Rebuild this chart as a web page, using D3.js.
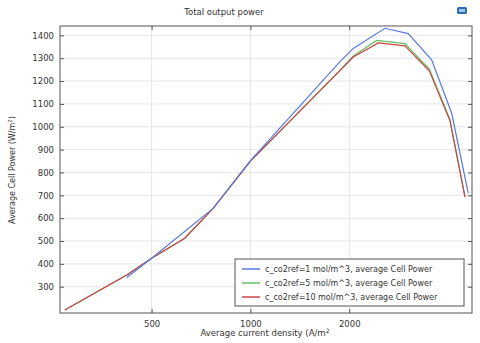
<!DOCTYPE html>
<html>
<head>
<meta charset="utf-8">
<script src="https://cdn.jsdelivr.net/npm/d3@7"></script>
<style>
  body { margin: 0; background: #fff; }
  text { font-family: "DejaVu Sans", Verdana, sans-serif; fill: #333; }
</style>
</head>
<body>
<div id="chart"></div>
<script>
// data
var seriesNames = [
  "c_co2ref=1 mol/m^3, average Cell Power",
  "c_co2ref=5 mol/m^3, average Cell Power",
  "c_co2ref=10 mol/m^3, average Cell Power"
];
var seriesColors = ["#5a78e6", "#62c062", "#cc4444"];

var xBlue = [420, 500, 770, 1000, 1874, 2057, 2569, 3025, 3565, 4102, 4608];
var yBlue = [340, 425, 643, 852, 1285, 1343, 1431, 1408, 1293, 1059, 709];

var xGreen = [272, 420, 500, 631, 770, 1000, 1874, 2057, 2423, 2956, 3506, 4053, 4503];
var yGreen = [198, 351, 425, 512, 643, 850, 1248, 1310, 1378, 1364, 1252, 1032, 694];

var xRed = [272, 420, 500, 631, 770, 1000, 1874, 2057, 2452, 2956, 3506, 4053, 4503];
var yRed = [198, 351, 425, 512, 643, 850, 1246, 1305, 1367, 1354, 1245, 1026, 692];

var xTicks = [500, 1000, 2000];
var yTicks = [300, 400, 500, 600, 700, 800, 900, 1000, 1100, 1200, 1300, 1400];

var width = 480, height = 343;
var margin = {top: 26, right: 8, bottom: 30, left: 60};
var plotW = width - margin.left - margin.right,
    plotH = height - margin.top - margin.bottom;

var svg = d3.select("#chart")
  .append("svg")
    .attr("width", width)
    .attr("height", height);

var g = svg.append("g")
  .attr("transform", "translate(" + margin.left + "," + margin.top + ")");

var x = d3.scaleLog().domain([263, 4730]).range([0, plotW]);
var y = d3.scaleLinear().domain([185, 1441]).range([plotH, 0]);

// grid
g.selectAll(".hgrid").data(yTicks).enter()
  .append("line")
    .attr("x1", 0).attr("x2", plotW)
    .attr("y1", function(d){ return y(d); })
    .attr("y2", function(d){ return y(d); })
    .attr("stroke", "#e6e6e6");
g.selectAll(".vgrid").data(xTicks).enter()
  .append("line")
    .attr("x1", function(d){ return x(d); })
    .attr("x2", function(d){ return x(d); })
    .attr("y1", 0).attr("y2", plotH)
    .attr("stroke", "#e6e6e6");

// axes, ticks pointing inward
function styleAxis(sel) {
  sel.select(".domain").remove();
  sel.selectAll(".tick line").attr("stroke", "#555");
  sel.selectAll(".tick text")
    .style("font-size", "8.5px")
    .attr("fill", "#333");
}
g.append("g")
  .attr("transform", "translate(0," + plotH + ")")
  .call(d3.axisBottom(x).tickValues(xTicks).tickFormat(d3.format("d")).tickSizeInner(-4).tickPadding(8))
  .call(styleAxis);
g.append("g")
  .call(d3.axisTop(x).tickValues(xTicks).tickFormat("").tickSizeInner(-4))
  .call(styleAxis);
g.append("g")
  .call(d3.axisLeft(y).tickValues(yTicks).tickFormat(d3.format("d")).tickSizeInner(-4).tickPadding(6))
  .call(styleAxis);
g.append("g")
  .attr("transform", "translate(" + plotW + ",0)")
  .call(d3.axisRight(y).tickValues(yTicks).tickFormat("").tickSizeInner(-4))
  .call(styleAxis);

// frame
g.append("rect")
  .attr("width", plotW).attr("height", plotH)
  .attr("fill", "none").attr("stroke", "#555").attr("stroke-width", 1);

// lines
var line = d3.line()
  .x(function(d){ return x(d[0]); })
  .y(function(d){ return y(d[1]); });

var series = [
  d3.zip(xBlue, yBlue),
  d3.zip(xGreen, yGreen),
  d3.zip(xRed, yRed)
];
[1, 2, 0].forEach(function(i) {
  g.append("path")
    .datum(series[i])
    .attr("fill", "none")
    .attr("stroke", seriesColors[i])
    .attr("stroke-width", 1.2)
    .attr("d", line);
});

// title
svg.append("text")
  .attr("x", 224).attr("y", 15)
  .attr("text-anchor", "middle")
  .style("font-size", "8.5px")
  .text("Total output power");

// little icon top right
svg.append("rect")
  .attr("x", 457).attr("y", 7).attr("width", 10).attr("height", 7).attr("rx", 1.5)
  .attr("fill", "#2f6db5");
svg.append("rect")
  .attr("x", 459).attr("y", 9).attr("width", 6).attr("height", 3)
  .attr("fill", "#9cc6ee");

// x label
var xl = svg.append("text")
  .attr("x", 265).attr("y", 336)
  .attr("text-anchor", "middle")
  .style("font-size", "8.5px")
  .text("Average current density (A/m");
xl.append("tspan").attr("dy", -3).style("font-size", "6px").text("2");

// y label
var yl = svg.append("text")
  .attr("transform", "translate(15," + 170 + ") rotate(-90)")
  .attr("text-anchor", "middle")
  .style("font-size", "8px")
  .text("Average Cell Power (W/m");
yl.append("tspan").attr("dy", -3).style("font-size", "5.5px").text("2");
yl.append("tspan").attr("dy", 3).text(")");

// legend
var legend = svg.append("g").attr("transform", "translate(235,259)");
legend.append("rect")
  .attr("width", 229).attr("height", 47)
  .attr("fill", "#fff").attr("stroke", "#555");
seriesNames.forEach(function(name, i) {
  var ly = 10 + i * 14;
  legend.append("line")
    .attr("x1", 7).attr("x2", 25)
    .attr("y1", ly).attr("y2", ly)
    .attr("stroke", seriesColors[i]).attr("stroke-width", 1.5);
  legend.append("text")
    .attr("x", 30).attr("y", ly + 3)
    .style("font-size", "8px")
    .text(name);
});
</script>
</body>
</html>
